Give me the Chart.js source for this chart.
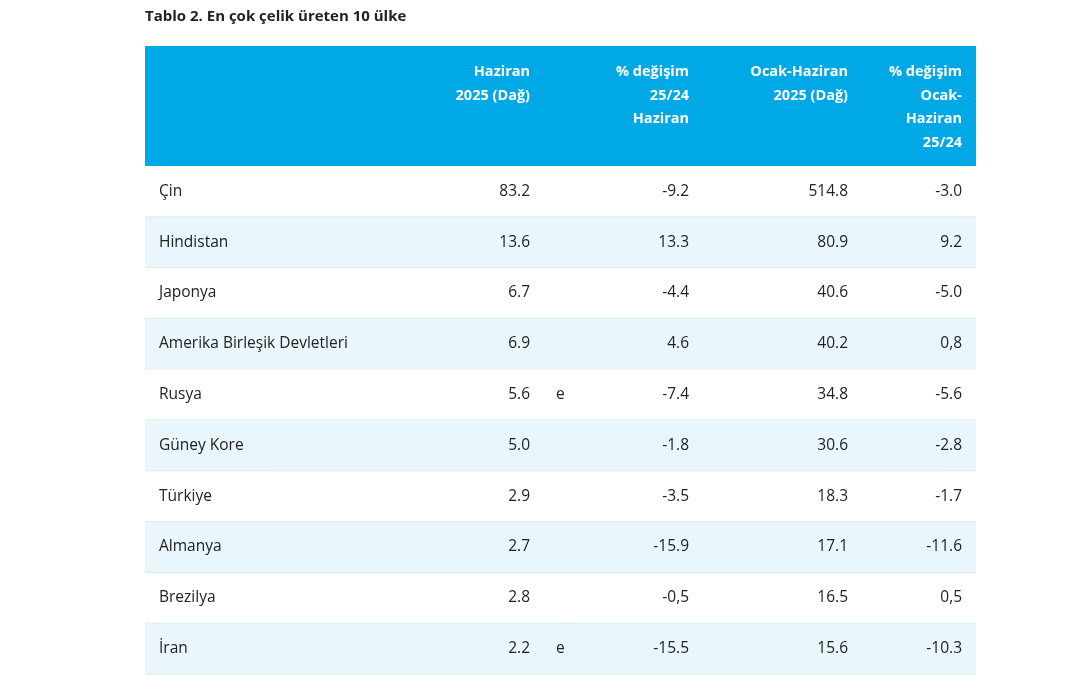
<!DOCTYPE html>
<html>
<head>
<meta charset="utf-8">
<script src="https://cdn.jsdelivr.net/npm/chart.js@4"></script>
<style>
  html, body { margin: 0; padding: 0; background: #fff; }
  #wrap { width: 1080px; height: 675px; }
</style>
</head>
<body>
<div id="wrap"><canvas id="steelTable"></canvas></div>
<script>
const countries = ['Çin', 'Hindistan', 'Japonya', 'Amerika Birleşik Devletleri', 'Rusya',
  'Güney Kore', 'Türkiye', 'Almanya', 'Brezilya', 'İran'];
const june2025 = ['83.2', '13.6', '6.7', '6.9', '5.6', '5.0', '2.9', '2.7', '2.8', '2.2'];
const estFlag = ['', '', '', '', 'e', '', '', '', '', 'e'];
const juneChange = ['-9.2', '13.3', '-4.4', '4.6', '-7.4', '-1.8', '-3.5', '-15.9', '-0,5', '-15.5'];
const halfYear2025 = ['514.8', '80.9', '40.6', '40.2', '34.8', '30.6', '18.3', '17.1', '16.5', '15.6'];
const halfYearChange = ['-3.0', '9.2', '-5.0', '0,8', '-5.6', '-2.8', '-1.7', '-11.6', '0,5', '-10.3'];
const headers = [
  ['Haziran', '2025 (Dağ)'],
  ['% değişim', '25/24', 'Haziran'],
  ['Ocak-Haziran', '2025 (Dağ)'],
  ['% değişim', 'Ocak-', 'Haziran', '25/24']
];
const title = 'Tablo 2. En çok çelik üreten 10 ülke';

const colRight = [530, 689, 848, 962];
const font = '"Open Sans", "Noto Sans", sans-serif';

const tablePlugin = {
  id: 'tablePlugin',
  beforeDraw(chart) {
    const { ctx, chartArea: a } = chart;
    ctx.save();
    ctx.fillStyle = '#222';
    ctx.font = 'bold 15px ' + font;
    ctx.textBaseline = 'middle';
    ctx.fillText(title, 145, 17);
    ctx.fillStyle = '#00a8e5';
    ctx.fillRect(a.left, 46, a.right - a.left, a.top - 46);
    ctx.fillStyle = '#fff';
    ctx.font = 'bold 14.5px ' + font;
    ctx.textAlign = 'right';
    headers.forEach((lines, c) => {
      lines.forEach((t, k) => ctx.fillText(t, colRight[c], 72 + k * 23.5));
    });
    ctx.restore();
  },
  afterDatasetsDraw(chart) {
    const { ctx, chartArea: a, scales } = chart;
    const y = scales.y;
    ctx.save();
    ctx.font = '15.5px ' + font;
    ctx.textBaseline = 'middle';
    ctx.fillStyle = '#222';
    countries.forEach((name, i) => {
      const py = y.getPixelForValue(i);
      const bottom = py + (y.getPixelForValue(1) - y.getPixelForValue(0)) / 2;
      ctx.strokeStyle = '#d6ecf6';
      ctx.lineWidth = 1;
      ctx.beginPath();
      ctx.moveTo(a.left, bottom);
      ctx.lineTo(a.right, bottom);
      ctx.stroke();
      ctx.textAlign = 'left';
      ctx.fillText(name, 159, py);
      ctx.fillText(estFlag[i], 556, py);
      ctx.textAlign = 'right';
      ctx.fillText(june2025[i], colRight[0], py);
      ctx.fillText(juneChange[i], colRight[1], py);
      ctx.fillText(halfYear2025[i], colRight[2], py);
      ctx.fillText(halfYearChange[i], colRight[3], py);
    });
    ctx.restore();
  }
};

new Chart(document.getElementById('steelTable'), {
  type: 'bar',
  data: {
    labels: countries,
    datasets: [{
      data: countries.map(() => 1),
      backgroundColor: countries.map((_, i) => i % 2 ? '#e9f6fc' : '#ffffff'),
      barPercentage: 1,
      categoryPercentage: 1
    }]
  },
  options: {
    indexAxis: 'y',
    responsive: true,
    maintainAspectRatio: false,
    animation: false,
    layout: { padding: { left: 145, right: 104, top: 166, bottom: 1 } },
    scales: {
      x: { display: false, min: 0, max: 1 },
      y: { display: false }
    },
    plugins: { legend: { display: false }, tooltip: { enabled: false } }
  },
  plugins: [tablePlugin]
});
</script>
</body>
</html>
